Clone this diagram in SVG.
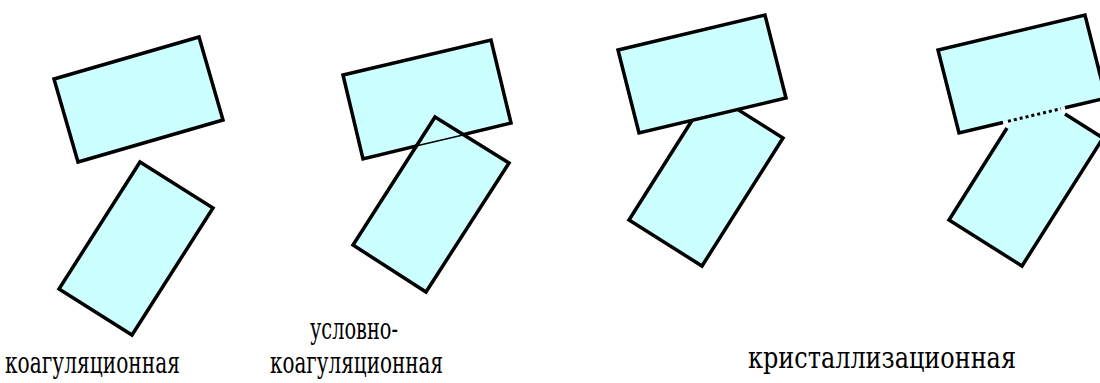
<svg xmlns="http://www.w3.org/2000/svg" width="1100" height="383" viewBox="0 0 1100 383">
<style>
.shape{fill:#ccffff;stroke:#000;stroke-width:3.5;stroke-linejoin:miter}
.fillonly{fill:#ccffff;stroke:none}
.edge{fill:none;stroke:#000;stroke-width:3.5;stroke-linejoin:miter}
.label{font-family:"DejaVu Serif", "Liberation Serif", serif;font-size:29px;fill:#000}
</style>
<rect width="1100" height="383" fill="#fff"/>
<g id="panel-coagulation">
  <polygon class="shape" points="54,79 199,37 223,120 78,162"/>
  <polygon class="shape" points="140,162 213,208 132,335 59,289"/>
</g>
<g id="panel-conditional">
  <polygon class="shape" points="343,75 491,40 511,123 363,159"/>
  <polygon class="shape" points="435,117 509,163 426,292 353,245"/>
  <line x1="416" y1="146" x2="463" y2="135" stroke="#000" stroke-width="1.5"/>
</g>
<g id="panel-crystal-a">
  <polygon class="shape" points="710,92 783,138 702,266 629,220"/>
  <polygon class="shape" points="618,50 765,15 786,98 639,133"/>
</g>
<g id="panel-crystal-b">
  <polygon class="fillonly" points="1030,92 1103,138 1022,266 949,220"/>
  <polygon class="fillonly" points="938,50 1085,15 1106,98 959,133"/>
  <polyline class="edge" points="1003,122.5 959,133 938,50 1085,15 1106,98 1065,107.8"/>
  <polyline class="edge" points="1007,128 949,220 1022,266 1103,138 1065,114"/>
</g>
<g id="connectors">
  <line x1="1008" y1="121.3" x2="1061" y2="108.7" stroke="#000" stroke-width="3" stroke-dasharray="3,3"/>
</g>
<g id="labels">
  <text class="label" x="5" y="373" textLength="175" lengthAdjust="spacingAndGlyphs">коагуляционная</text>
  <text class="label" x="310" y="339" textLength="88" lengthAdjust="spacingAndGlyphs">условно-</text>
  <text class="label" x="270" y="373" textLength="173" lengthAdjust="spacingAndGlyphs">коагуляционная</text>
  <text class="label" x="748" y="368" textLength="268" lengthAdjust="spacingAndGlyphs">кристаллизационная</text>
</g>
</svg>
